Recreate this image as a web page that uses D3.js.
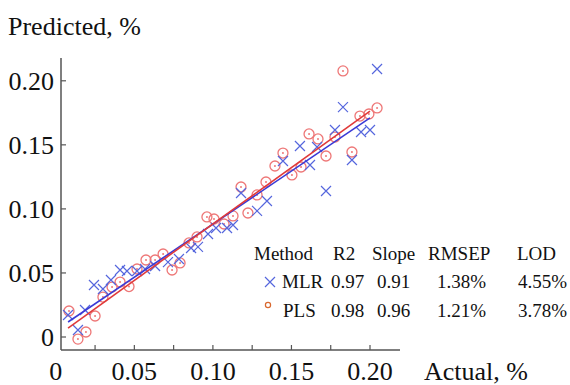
<!DOCTYPE html>
<html>
<head>
<meta charset="utf-8">
<script src="https://cdn.jsdelivr.net/npm/d3@7"></script>
</head>
<body style="margin:0">
<svg id="chart" width="570" height="385"></svg>
<script>
// actual vs predicted, %
const mlrActual = [0.0078, 0.0141, 0.0186, 0.0243, 0.0300, 0.0351, 0.0409, 0.0453, 0.0517, 0.0568,
  0.0632, 0.0714, 0.0784, 0.0861, 0.0905, 0.0969, 0.1020, 0.1090, 0.1128, 0.1179, 0.1281, 0.1344,
  0.1446, 0.1554, 0.1618, 0.1663, 0.1720, 0.1777, 0.1828, 0.1885, 0.1943, 0.2000, 0.2045]
const mlrPredicted = [0.0172, 0.0055, 0.0211, 0.0406, 0.0375, 0.0445, 0.0523, 0.0515, 0.0515, 0.0531,
  0.0554, 0.0585, 0.0609, 0.0695, 0.0703, 0.0804, 0.0851, 0.0851, 0.0874, 0.1124, 0.0984, 0.1062,
  0.1374, 0.1491, 0.1343, 0.1483, 0.1140, 0.1616, 0.1795, 0.1382, 0.1600, 0.1616, 0.2092]

const plsActual = [0.0084, 0.0141, 0.0192, 0.0250, 0.0300, 0.0358, 0.0409, 0.0466, 0.0517, 0.0574,
  0.0632, 0.0683, 0.0740, 0.0791, 0.0848, 0.0899, 0.0962, 0.1007, 0.1071, 0.1128, 0.1179, 0.1223,
  0.1281, 0.1338, 0.1395, 0.1446, 0.1503, 0.1561, 0.1612, 0.1669, 0.1720, 0.1777, 0.1828, 0.1885,
  0.1936, 0.1993, 0.2045]
const plsPredicted = [0.0203, -0.0016, 0.0039, 0.0164, 0.0312, 0.0390, 0.0429, 0.0394, 0.0531, 0.0601,
  0.0601, 0.0648, 0.0523, 0.0578, 0.0734, 0.0781, 0.0937, 0.0921, 0.0882, 0.0945, 0.1171, 0.0968,
  0.1109, 0.1210, 0.1335, 0.1436, 0.1265, 0.1327, 0.1585, 0.1546, 0.1413, 0.1561, 0.2077, 0.1444,
  0.1725, 0.1741, 0.1788]

// fitted lines, [x0, y0, x1, y1]
const mlrFit = [0.0078, 0.0117, 0.2000, 0.1710]
const plsFit = [0.0078, 0.0070, 0.2000, 0.1764]

const xTickLabels = [0, 0.05, 0.10, 0.15, 0.20]
const xMinorTicks = [0.025, 0.05, 0.075, 0.10, 0.125, 0.15, 0.175, 0.20]
const yTickLabels = [0, 0.05, 0.10, 0.15, 0.20]

const legendHeader = ['Method', 'R2', 'Slope', 'RMSEP', 'LOD']
const legendRows = [
  ['MLR', '0.97', '0.91', '1.38%', '4.55%'],
  ['PLS', '0.98', '0.96', '1.21%', '3.78%'],
]

const blue = '#5566dd'
const red = '#ee7777'
const fontName = 'Liberation Serif'

const svg = d3.select('#chart')

const x = d3.scaleLinear().domain([0, 0.2]).range([55.8, 370])
const y = d3.scaleLinear().domain([0, 0.2]).range([337, 80.8])

const plot = { left: 61, right: 400, top: 58, bottom: 350 }
const fmt = (d) => d === 0 ? '0' : d3.format('.2f')(d)

function label(sel, size) {
  return sel.attr('font-size', size).style('font-family', `"${fontName}"`).attr('fill', '#111')
}

// y axis
const yAxis = svg.append('g').attr('transform', `translate(${plot.left},0)`)
yAxis.append('line').attr('x1', 0).attr('x2', 0).attr('y1', plot.top).attr('y2', plot.bottom)
  .attr('stroke', '#555').attr('stroke-width', 1.5)
yAxis.selectAll('.tk').data(yTickLabels).join('line').attr('class', 'tk')
  .attr('x1', 0).attr('x2', 5).attr('y1', (d) => y(d)).attr('y2', (d) => y(d))
  .attr('stroke', '#555').attr('stroke-width', 1.2)
label(yAxis.selectAll('text').data(yTickLabels).join('text'), 26)
  .attr('x', -7).attr('y', (d) => y(d)).attr('dy', '0.35em')
  .attr('text-anchor', 'end')
  .text(fmt)

// x axis
const xAxis = svg.append('g').attr('transform', `translate(0,${plot.bottom})`)
xAxis.append('line').attr('x1', plot.left).attr('x2', plot.right).attr('y1', 0).attr('y2', 0)
  .attr('stroke', '#555').attr('stroke-width', 1.5)
xAxis.selectAll('.tk').data(xMinorTicks).join('line').attr('class', 'tk')
  .attr('x1', (d) => x(d)).attr('x2', (d) => x(d)).attr('y1', 0).attr('y2', -5)
  .attr('stroke', '#555').attr('stroke-width', 1.2)
label(xAxis.selectAll('text').data(xTickLabels).join('text'), 26)
  .attr('x', (d) => x(d)).attr('y', 30)
  .attr('text-anchor', 'middle')
  .text(fmt)

label(svg.append('text'), 26).attr('x', 8).attr('y', 35).text('Predicted, %')
label(svg.append('text'), 26).attr('x', 424).attr('y', 380).text('Actual, %')

// points
const pls = plsActual.map((a, i) => ({ a, p: plsPredicted[i] }))
const mlr = mlrActual.map((a, i) => ({ a, p: mlrPredicted[i] }))

const circles = svg.append('g').selectAll('g').data(pls).join('g')
  .attr('transform', (d) => `translate(${x(d.a)},${y(d.p)})`)
circles.append('circle').attr('r', 5).attr('fill', 'none').attr('stroke', red).attr('stroke-width', 1.3)
circles.append('circle').attr('r', 1).attr('fill', red)

const s = 5
svg.append('g').selectAll('path').data(mlr).join('path')
  .attr('d', (d) => {
    const cx = x(d.a), cy = y(d.p)
    return `M${cx - s},${cy - s}L${cx + s},${cy + s}M${cx - s},${cy + s}L${cx + s},${cy - s}`
  })
  .attr('stroke', blue).attr('stroke-width', 1.2).attr('fill', 'none')

// fit lines
svg.append('line')
  .attr('x1', x(mlrFit[0])).attr('y1', y(mlrFit[1])).attr('x2', x(mlrFit[2])).attr('y2', y(mlrFit[3]))
  .attr('stroke', '#3a3ad6').attr('stroke-width', 1.6)
svg.append('line')
  .attr('x1', x(plsFit[0])).attr('y1', y(plsFit[1])).attr('x2', x(plsFit[2])).attr('y2', y(plsFit[3]))
  .attr('stroke', '#e03a3a').attr('stroke-width', 1.6)

// legend table
const colX = [254, 333, 372, 428, 517]
const rowColX = [282, 331, 377, 437, 518]
const legend = svg.append('g')
label(legend.selectAll('.hd').data(legendHeader).join('text').attr('class', 'hd'), 19)
  .attr('x', (d, i) => colX[i]).attr('y', 260).text((d) => d)
legendRows.forEach((row, r) => {
  label(legend.append('g').selectAll('text').data(row).join('text'), 19)
    .attr('x', (d, i) => rowColX[i] + (r === 1 && i === 0 ? 1 : 0))
    .attr('y', 288 + r * 29).text((d) => d)
})
legend.append('path')
  .attr('d', 'M265,277L275,287M265,287L275,277')
  .attr('stroke', blue).attr('stroke-width', 1.2)
legend.append('circle').attr('cx', 268).attr('cy', 305).attr('r', 2.6)
  .attr('fill', 'none').attr('stroke', '#d9682e').attr('stroke-width', 1.2)
</script>
</body>
</html>
